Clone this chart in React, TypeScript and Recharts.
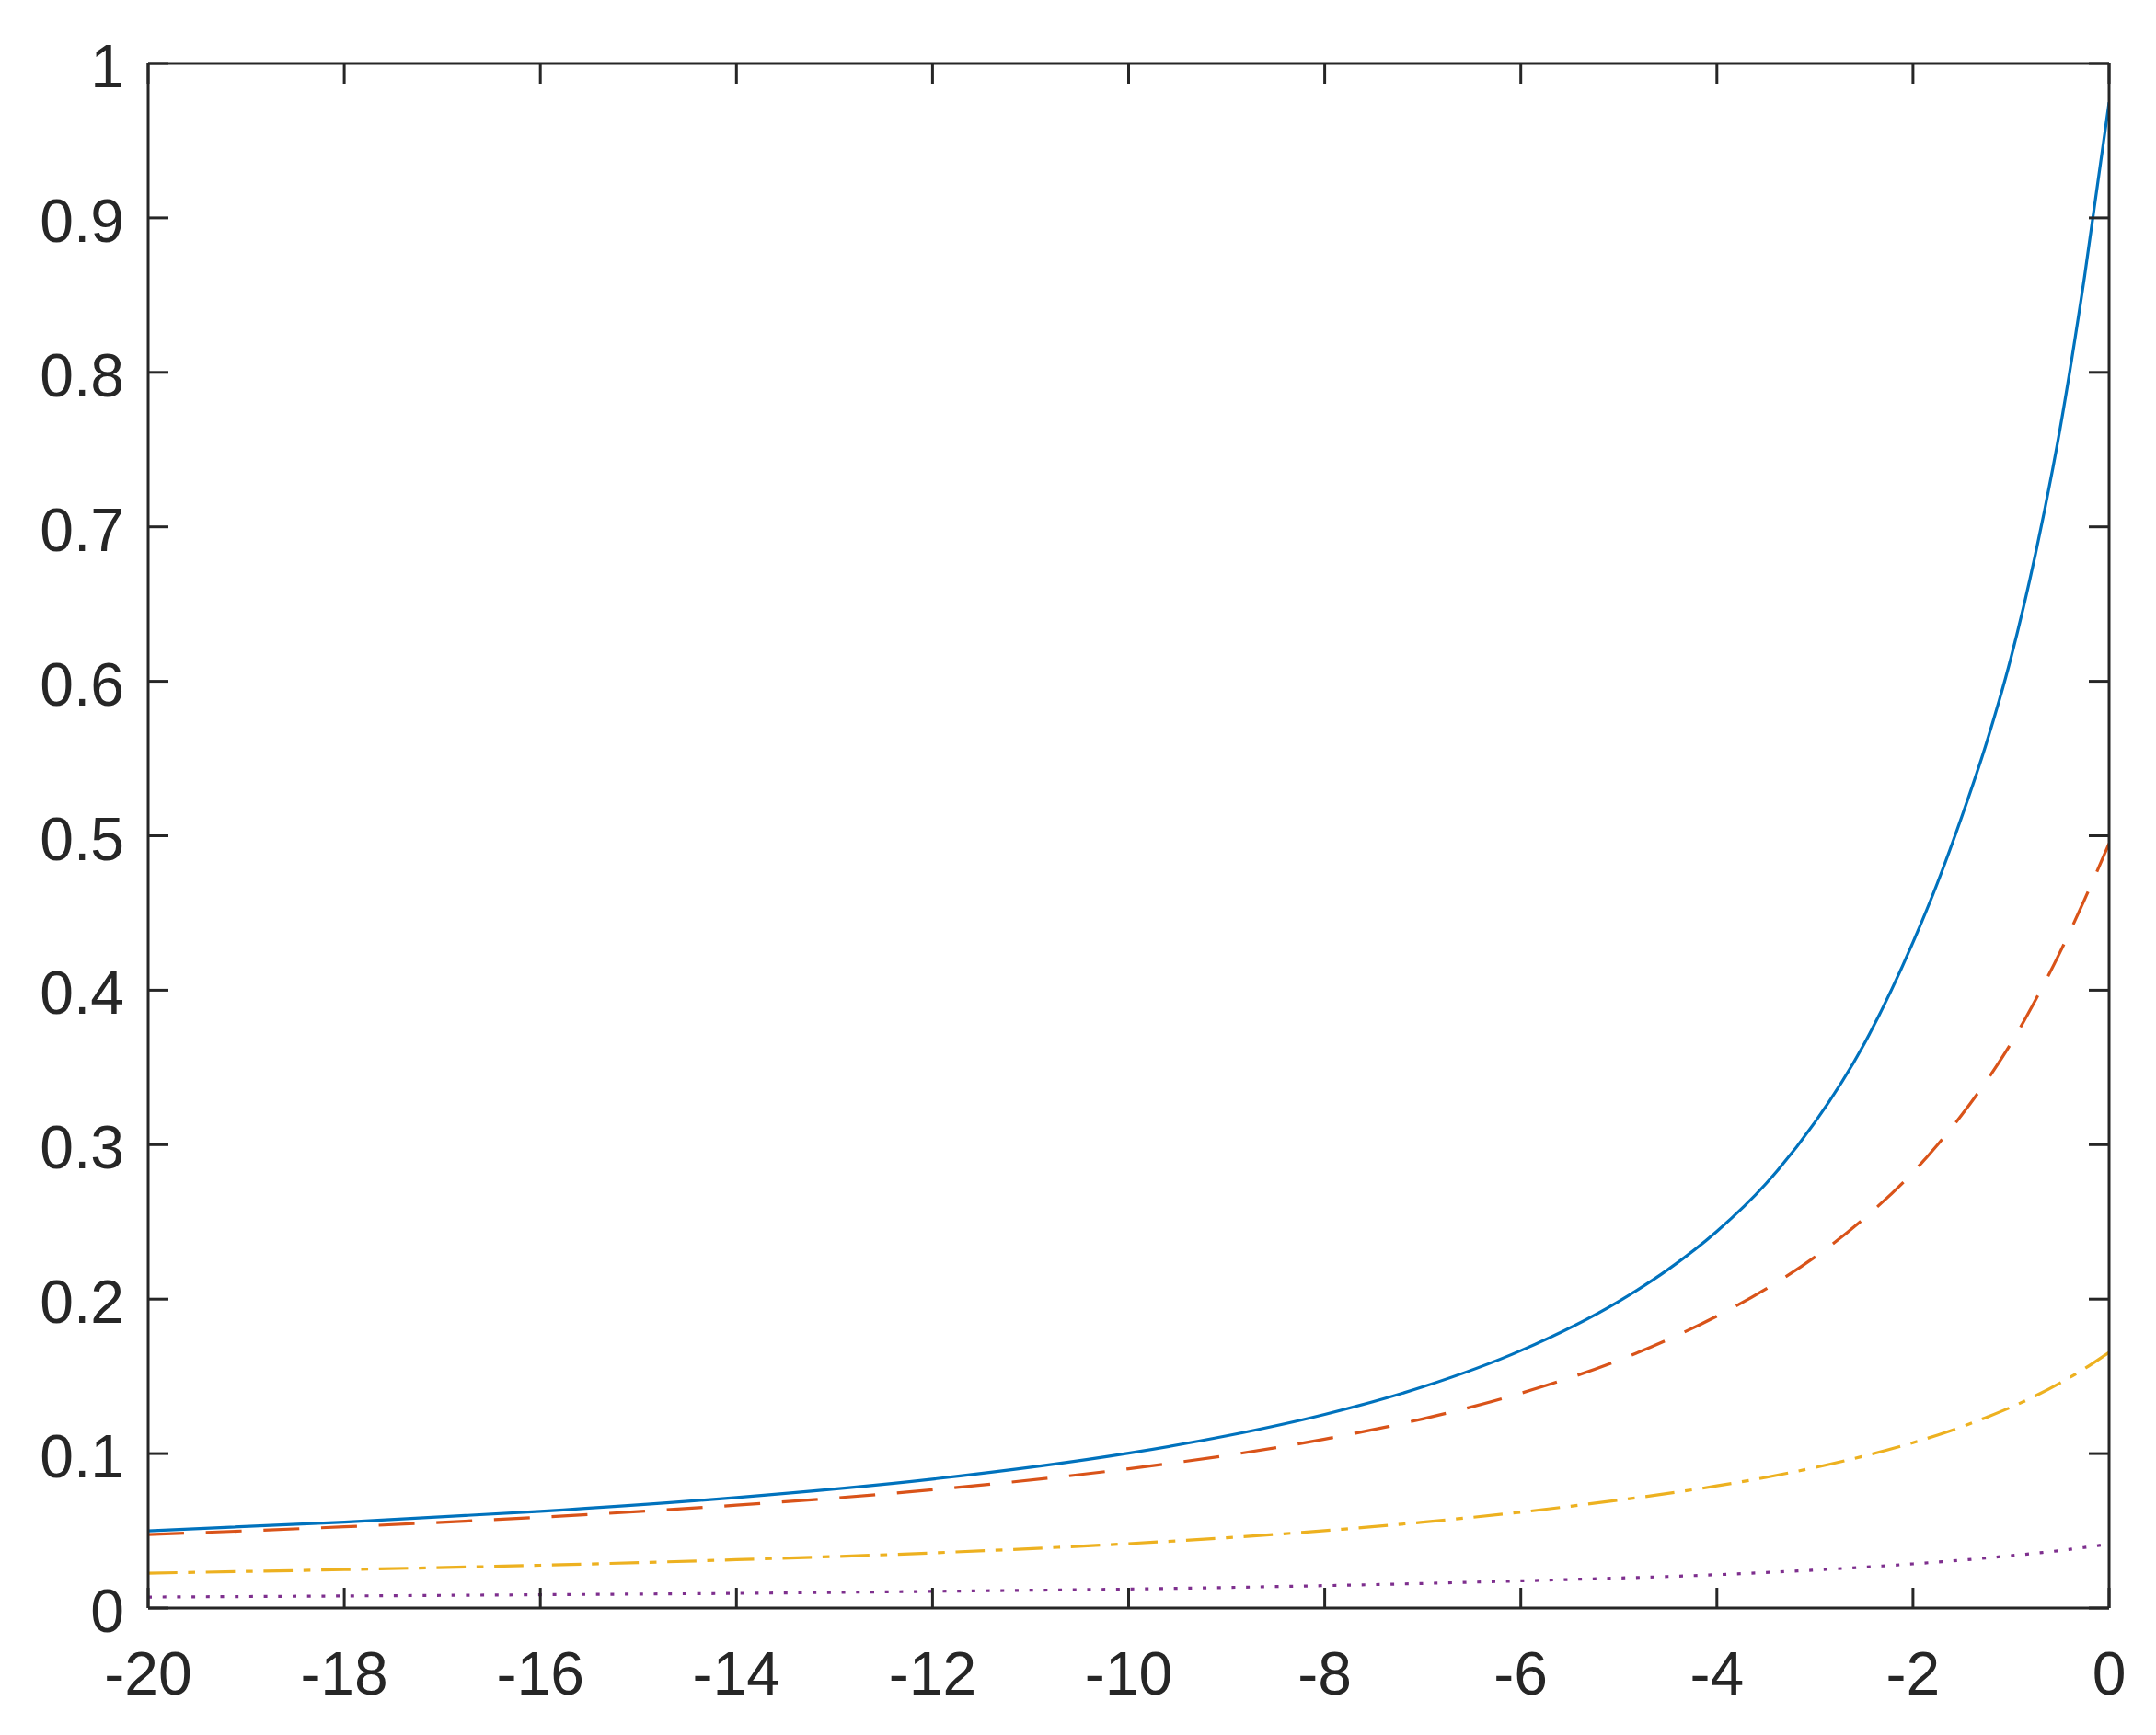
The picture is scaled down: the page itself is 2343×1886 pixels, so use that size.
import React from 'react';
import { LineChart, Line, XAxis, YAxis } from 'recharts';

const xValues = [-20, -18, -16, -14, -12, -10, -9, -8, -7, -6, -5, -4.5, -4, -3.5, -3, -2.5, -2, -1.75, -1.5, -1.25, -1, -0.75, -0.5, -0.25, 0];
const blueValues = [0.05, 0.0556, 0.0626, 0.0716, 0.0835, 0.1003, 0.1115, 0.1254, 0.1432, 0.1667, 0.1986, 0.2191, 0.2439, 0.2747, 0.3145, 0.365, 0.431, 0.4695, 0.5128, 0.5602, 0.6154, 0.6826, 0.7634, 0.8621, 0.9747];
const redValues = [0.0476, 0.0526, 0.0588, 0.0666, 0.0766, 0.0902, 0.0988, 0.1094, 0.1225, 0.1391, 0.1605, 0.1738, 0.189, 0.2066, 0.2273, 0.2522, 0.2821, 0.2999, 0.3195, 0.3413, 0.3656, 0.3937, 0.4246, 0.4587, 0.495];
const yellowValues = [0.0226, 0.0249, 0.0277, 0.0313, 0.0357, 0.0417, 0.0455, 0.0501, 0.0556, 0.0621, 0.0699, 0.0742, 0.0791, 0.0846, 0.091, 0.0984, 0.1071, 0.112, 0.1174, 0.1235, 0.13, 0.1374, 0.1457, 0.155, 0.1656];
const purpleValues = [0.0071, 0.0078, 0.0086, 0.0095, 0.0108, 0.0123, 0.0133, 0.0145, 0.0159, 0.0176, 0.0194, 0.0204, 0.0216, 0.023, 0.0246, 0.0265, 0.0286, 0.0298, 0.031, 0.0324, 0.0339, 0.0355, 0.0372, 0.0392, 0.0415];

const xTicks = [-20, -18, -16, -14, -12, -10, -8, -6, -4, -2, 0];
const yTicks = [0, 0.1, 0.2, 0.3, 0.4, 0.5, 0.6, 0.7, 0.8, 0.9, 1];

const data = xValues.map((x, i) => ({
  x,
  a: blueValues[i],
  b: redValues[i],
  c: yellowValues[i],
  d: purpleValues[i],
}));

const AXIS = '#262626';
const FONT = '"Liberation Sans", Arial, Helvetica, sans-serif';
const TICK_LEN = 22;
const TICK_W = 3;

const BottomTick = (props: any) => {
  const { x, y, payload } = props;
  return (
    <g>
      <line x1={x} y1={y} x2={x} y2={y - TICK_LEN} stroke={AXIS} strokeWidth={TICK_W} />
      <text x={x} y={y + 94} textAnchor="middle" fontSize={66} fontFamily={FONT} fill={AXIS}>
        {String(payload.value)}
      </text>
    </g>
  );
};

const TopTick = (props: any) => {
  const { x, y } = props;
  return <line x1={x} y1={y} x2={x} y2={y + TICK_LEN} stroke={AXIS} strokeWidth={TICK_W} />;
};

const LeftTick = (props: any) => {
  const { x, y, payload } = props;
  return (
    <g>
      <line x1={x} y1={y} x2={x + TICK_LEN} y2={y} stroke={AXIS} strokeWidth={TICK_W} />
      <text x={x - 26} y={y + 26} textAnchor="end" fontSize={66} fontFamily={FONT} fill={AXIS}>
        {String(payload.value)}
      </text>
    </g>
  );
};

const RightTick = (props: any) => {
  const { x, y } = props;
  return <line x1={x} y1={y} x2={x - TICK_LEN} y2={y} stroke={AXIS} strokeWidth={TICK_W} />;
};

export default function App() {
  return (
    <div style={{ position: 'absolute', left: 0, top: 0, width: 2343, height: 1886, background: '#fff' }}>
      <LineChart width={2343} height={1886} data={data} margin={{ top: 0, right: 0, bottom: 0, left: 0 }}>
        <XAxis
          xAxisId="b"
          dataKey="x"
          type="number"
          domain={[-20, 0]}
          ticks={xTicks}
          interval={0}
          orientation="bottom"
          height={138}
          tickSize={0}
          tickMargin={0}
          tickLine={false}
          axisLine={{ stroke: AXIS, strokeWidth: 3 }}
          tick={BottomTick}
          allowDataOverflow
        />
        <XAxis
          xAxisId="t"
          dataKey="x"
          type="number"
          domain={[-20, 0]}
          ticks={xTicks}
          interval={0}
          orientation="top"
          height={69}
          tickSize={0}
          tickMargin={0}
          tickLine={false}
          axisLine={{ stroke: AXIS, strokeWidth: 3 }}
          tick={TopTick}
          allowDataOverflow
        />
        <YAxis
          yAxisId="l"
          type="number"
          domain={[0, 1]}
          ticks={yTicks}
          interval={0}
          orientation="left"
          width={161}
          tickSize={0}
          tickMargin={0}
          tickLine={false}
          axisLine={{ stroke: AXIS, strokeWidth: 3 }}
          tick={LeftTick}
          allowDataOverflow
        />
        <YAxis
          yAxisId="r"
          type="number"
          domain={[0, 1]}
          ticks={yTicks}
          interval={0}
          orientation="right"
          width={51}
          tickSize={0}
          tickMargin={0}
          tickLine={false}
          axisLine={{ stroke: AXIS, strokeWidth: 3 }}
          tick={RightTick}
          allowDataOverflow
        />
        <Line xAxisId="b" yAxisId="l" type="monotoneX" dataKey="a" stroke="#0072BD" strokeWidth={3.2} dot={false} activeDot={false} isAnimationActive={false} />
        <Line xAxisId="b" yAxisId="l" type="monotoneX" dataKey="b" stroke="#D95319" strokeWidth={3.2} strokeDasharray="39 23.7" dot={false} activeDot={false} isAnimationActive={false} />
        <Line xAxisId="b" yAxisId="l" type="monotoneX" dataKey="c" stroke="#EDB120" strokeWidth={3.2} strokeDasharray="31.7 11.7 7.6 11.7" dot={false} activeDot={false} isAnimationActive={false} />
        <Line xAxisId="b" yAxisId="l" type="monotoneX" dataKey="d" stroke="#7E2F8E" strokeWidth={3.2} strokeDasharray="4 11.7" dot={false} activeDot={false} isAnimationActive={false} />
      </LineChart>
    </div>
  );
}
